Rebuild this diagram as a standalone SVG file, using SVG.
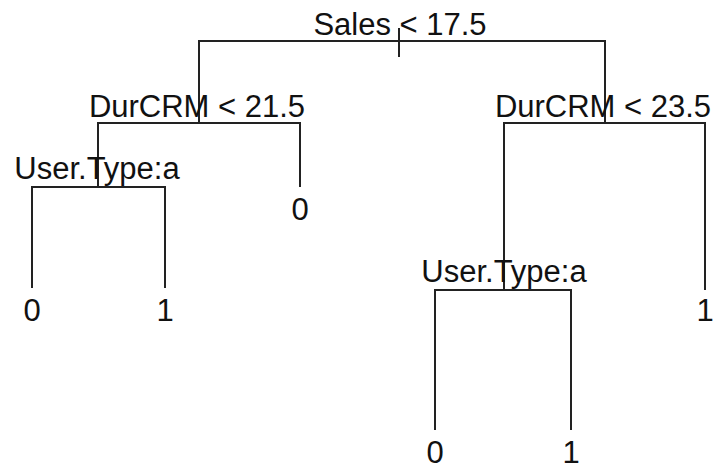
<svg xmlns="http://www.w3.org/2000/svg" width="715" height="470" viewBox="0 0 715 470">
  <style>
    .edge { fill: none; stroke: #222; stroke-width: 2; stroke-linecap: butt; }
    .lbl { font-family: "Liberation Sans", Arial, sans-serif; font-size: 31px; fill: #111; text-anchor: middle; }
  </style>
  <rect width="715" height="470" fill="#fff"/>

  <!-- tree branches -->
  <g id="connectors">
    <!-- root split -->
    <path class="edge" d="M399 28 V57"/>
    <path class="edge" d="M199 123 V41 H605 V123"/>
    <!-- DurCRM < 21.5 -->
    <path class="edge" d="M98 187 V123 H300 V187"/>
    <!-- left User.Type:a -->
    <path class="edge" d="M32 288 V187 H165 V288"/>
    <!-- DurCRM < 23.5 -->
    <path class="edge" d="M504 290 V123 H705 V290"/>
    <!-- right User.Type:a -->
    <path class="edge" d="M435 430 V290 H571 V430"/>
  </g>

  <g id="root"><text class="lbl" x="400" y="35">Sales &lt; 17.5</text></g>
  <g id="split-dur-left"><text class="lbl" x="197" y="117">DurCRM &lt; 21.5</text></g>
  <g id="split-dur-right"><text class="lbl" x="603" y="117">DurCRM &lt; 23.5</text></g>
  <g id="split-type-left"><text class="lbl" x="97" y="179">User.Type:a</text></g>
  <g id="split-type-right"><text class="lbl" x="504" y="282">User.Type:a</text></g>

  <g id="leaf-1"><text class="lbl" x="32" y="321">0</text></g>
  <g id="leaf-2"><text class="lbl" x="165" y="321">1</text></g>
  <g id="leaf-3"><text class="lbl" x="300" y="220">0</text></g>
  <g id="leaf-4"><text class="lbl" x="435" y="463">0</text></g>
  <g id="leaf-5"><text class="lbl" x="571" y="463">1</text></g>
  <g id="leaf-6"><text class="lbl" x="705" y="321">1</text></g>
</svg>
